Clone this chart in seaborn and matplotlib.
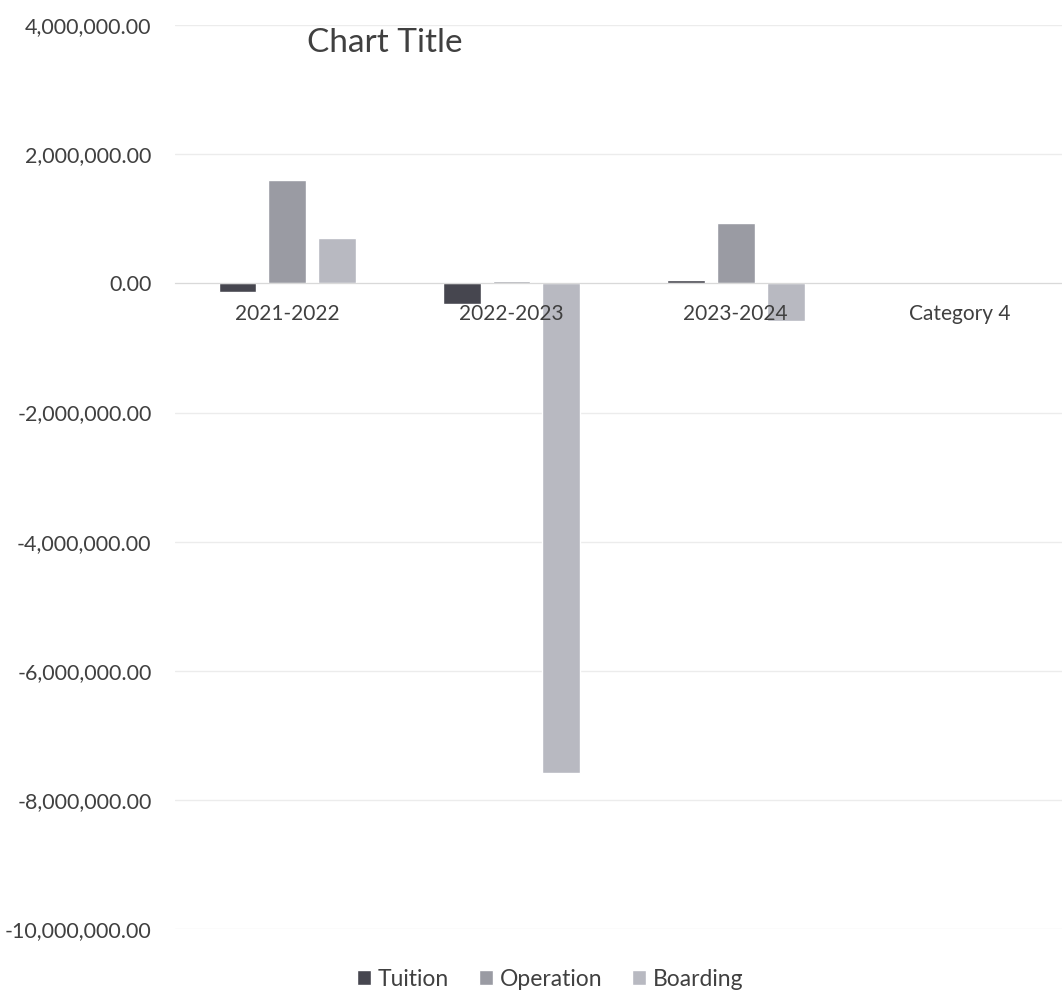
import pandas as pd
import numpy as np
import seaborn as sns
import matplotlib.pyplot as plt
from matplotlib.ticker import FuncFormatter

# Data
categories = ['2021-2022', '2022-2023', '2023-2024', 'Category 4']
tuition = [-140000, -320000, 50000, np.nan]
operation = [1600000, 30000, 940000, np.nan]
boarding = [700000, -7580000, -580000, np.nan]
series = ['Tuition', 'Operation', 'Boarding']
colors = ['#46464f', '#9a9ba3', '#b8b9c1']

df = pd.DataFrame({'Category': categories, 'Tuition': tuition,
                   'Operation': operation, 'Boarding': boarding})
long_df = df.melt(id_vars='Category', var_name='Series', value_name='Value')

sns.set_style('white')
plt.rcParams['font.family'] = ['Lato', 'DejaVu Sans']

fig = plt.figure(figsize=(10.62, 9.9), dpi=100)
ax = fig.add_axes([0.165, 0.0616, 0.855, 0.913])

sns.barplot(data=long_df, x='Category', y='Value', hue='Series',
            order=categories, hue_order=series, palette=colors,
            width=0.667, gap=0.24, errorbar=None, ax=ax, saturation=1)

ax.set_ylim(-10000000, 4000000)
ax.set_xlim(-0.5, 3.55)
ax.set_yticks(np.arange(-10000000, 4000001, 2000000))
ax.yaxis.set_major_formatter(FuncFormatter(lambda v, p: f'{v:,.2f}'))
ax.grid(axis='y', color='#ececec', linewidth=1)
ax.set_axisbelow(True)

for s in ['top', 'right', 'left']:
    ax.spines[s].set_visible(False)
ax.spines['bottom'].set_position(('data', 0))
ax.spines['bottom'].set_color('#d9d9d9')
ax.tick_params(axis='x', length=0, labelbottom=False)
ax.tick_params(axis='y', length=0, labelsize=15.5, labelcolor='#404040', pad=17)
ax.set_xlabel('')
ax.set_ylabel('')

# category labels sit on the zero line, drawn over the bars
for i, cat in enumerate(categories):
    ax.annotate(cat, xy=(i, 0), xytext=(0, -15), textcoords='offset points',
                ha='center', va='top', fontsize=15, color='#404040', zorder=5)

fig.text(0.362, 0.957, 'Chart Title', fontsize=24, color='#404040',
         ha='center', va='center')

handles, labels = ax.get_legend_handles_labels()
ax.legend_.remove()
fig.legend(handles, labels, loc='center', bbox_to_anchor=(0.518, 0.011),
           ncol=3, frameon=False, fontsize=16.5, handlelength=0.6,
           handleheight=0.6, handletextpad=0.3, columnspacing=1.3,
           labelcolor='#404040')

plt.savefig('out.png', dpi=100)
